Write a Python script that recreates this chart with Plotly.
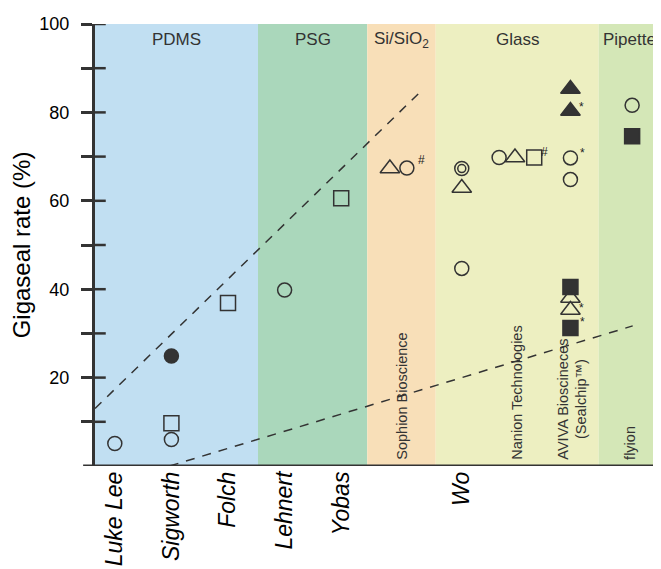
import plotly.graph_objects as go

# ---- data ----
authors = ["Luke Lee", "Sigworth", "Folch", "Lehnert", "Yobas", "Wo"]
author_x = [1, 2, 3, 4, 5, 7.13]

bands = ["PDMS", "PSG", "Si/SiO<sub>2</sub>", "Glass", "Pipette"]
band_start = [0.65, 3.53, 5.46, 6.67, 9.55]
band_end = [3.53, 5.46, 6.67, 9.55, 10.65]
band_colors = ["#c1dff2", "#aad7bb", "#f8dfb8", "#edefc1", "#d4e7b7"]

companies = ["Sophion Bioscience", "Nanion Technologies",
             "AVIVA Bioscineces<br>(Sealchip™)", "flyion"]
company_x = [6.06, 8.1, 9.08, 10.1]

# points
open_circle_x = [1, 2, 4, 6.16, 7.13, 7.13, 7.79, 9.05, 9.05, 10.14]
open_circle_y = [5.1, 6.0, 39.8, 67.4, 67.3, 44.7, 69.8, 69.7, 64.8, 81.6]
inner_circle_x = [7.13]
inner_circle_y = [67.3]
filled_circle_x = [2]
filled_circle_y = [24.9]
open_square_x = [2, 3, 5, 8.41]
open_square_y = [9.7, 36.9, 60.6, 69.8]
filled_square_x = [9.05, 9.05, 10.14]
filled_square_y = [40.5, 31.2, 74.6]
open_triangle_x = [5.86, 7.13, 8.07, 9.05, 9.05]
open_triangle_y = [67.3, 62.9, 69.8, 38.0, 35.3]
filled_triangle_x = [9.05, 9.05]
filled_triangle_y = [85.3, 80.3]

notes = ["#", "#", "*", "*", "*", "*"]
note_x = [6.41, 8.6, 9.25, 9.26, 9.25, 9.26]
note_y = [69.2, 71.0, 81.2, 70.8, 35.7, 32.5]

upper_trend_x = [0.65, 6.37]
upper_trend_y = [13.0, 84.3]
lower_trend_x = [1.97, 10.15]
lower_trend_y = [0.0, 31.7]

ink = "#333333"
fig = go.Figure()

# bands
for s, e, c in zip(band_start, band_end, band_colors):
    fig.add_shape(type="rect", xref="x", yref="y", x0=s, x1=e, y0=0, y1=100,
                  fillcolor=c, line_width=0, layer="below")

# trend lines
for tx, ty in [(upper_trend_x, upper_trend_y), (lower_trend_x, lower_trend_y)]:
    fig.add_trace(go.Scatter(x=tx, y=ty, mode="lines",
                             line=dict(color=ink, width=1.5, dash="9px,8px"),
                             hoverinfo="skip", showlegend=False))

def markers(x, y, symbol, size, filled):
    fig.add_trace(go.Scatter(
        x=x, y=y, mode="markers", showlegend=False,
        marker=dict(symbol=symbol, size=size,
                    color=ink if filled else "rgba(0,0,0,0)",
                    line=dict(color=ink, width=1.5))))

markers(open_circle_x, open_circle_y, "circle", 14, False)
markers(inner_circle_x, inner_circle_y, "circle", 8, False)
markers(filled_circle_x, filled_circle_y, "circle", 14, True)
markers(open_square_x, open_square_y, "square", 15, False)
markers(filled_square_x, filled_square_y, "square", 15, True)
markers(open_triangle_x, open_triangle_y, "triangle-up", 17, False)
markers(filled_triangle_x, filled_triangle_y, "triangle-up", 17, True)

# notes (#, *)
for t, x, y in zip(notes, note_x, note_y):
    fig.add_annotation(x=x, y=y, text=t, showarrow=False,
                       font=dict(size=12, color="#222222", family="Liberation Sans"))

# band labels
for b, s, e in zip(bands, band_start, band_end):
    fig.add_annotation(x=(s + e) / 2, y=96.4, text=b, showarrow=False,
                       font=dict(size=17, color=ink, family="Liberation Sans"))

# company labels (vertical)
for c, x in zip(companies, company_x):
    fig.add_annotation(x=x, y=0.9, text=c, showarrow=False, textangle=-90,
                       xanchor="center", yanchor="bottom",
                       font=dict(size=14.5, color=ink, family="Liberation Sans"))

# inside part of y ticks
for v in range(10, 101, 10):
    fig.add_shape(type="line", xref="x domain", yref="y", x0=0, x1=0.019,
                  y0=v, y1=v, line=dict(color=ink, width=2.5))
# x axis line extension to the left
fig.add_shape(type="line", xref="x domain", yref="y", x0=-0.021, x1=1,
              y0=0, y1=0, line=dict(color=ink, width=3))

fig.update_layout(
    width=661, height=569,
    margin=dict(l=87, r=8, t=16, b=111),
    paper_bgcolor="white", plot_bgcolor="white",
    font=dict(family="Liberation Sans", color="black"),
    xaxis=dict(range=[0.65, 10.65], showgrid=False, zeroline=False,
               tickmode="array", tickvals=author_x,
               ticktext=[f"<i>{a}</i>" for a in authors],
               tickangle=-90, tickfont=dict(size=23, color="black"),
               ticks="", showline=False, automargin=False),
    yaxis=dict(range=[0, 100], showgrid=False, zeroline=False,
               tickmode="array", tickvals=[20, 40, 60, 80, 100],
               ticks="outside", ticklen=11, tickwidth=2.5, tickcolor=ink,
               ticklabelstandoff=8,
               minor=dict(tickvals=[10, 30, 50, 70, 90], ticks="outside",
                          ticklen=11, tickwidth=2.5, tickcolor=ink),
               showline=True, linecolor=ink, linewidth=3, automargin=False,
               tickfont=dict(size=18, color="black"),
               title=dict(text="Gigaseal rate (%)", standoff=13,
                          font=dict(size=24, color="black"))),
)

fig.write_html("out.html")
